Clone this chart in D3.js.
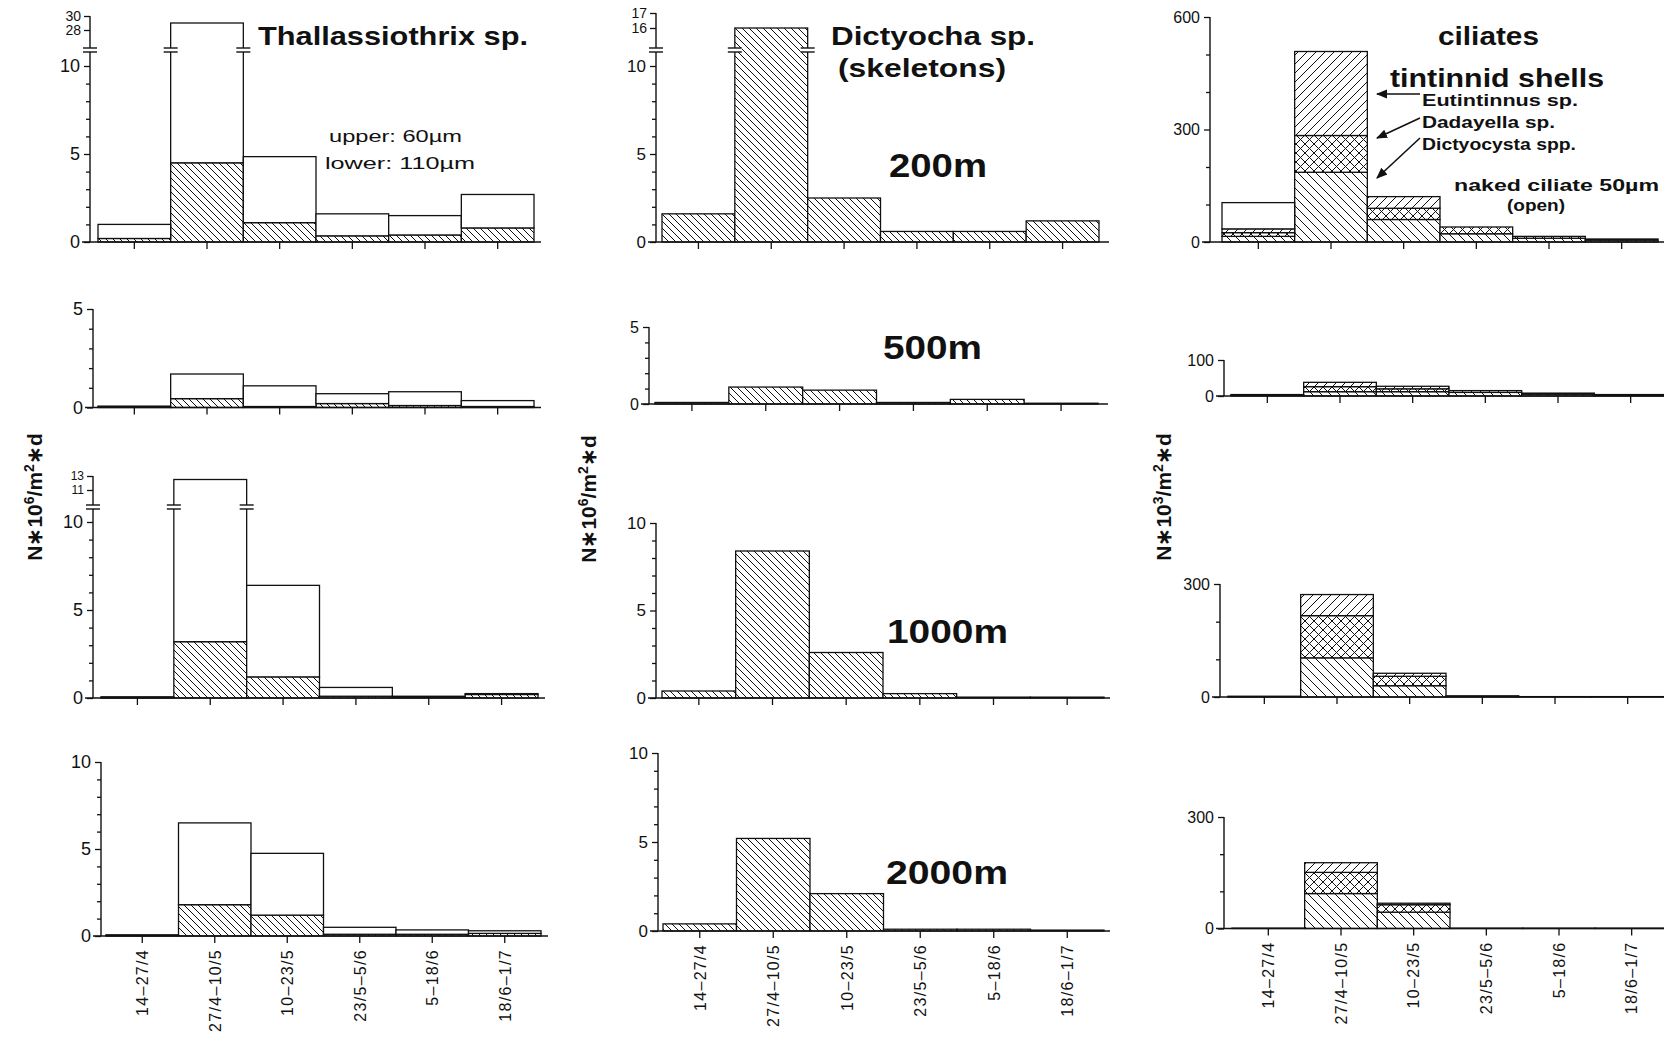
<!DOCTYPE html>
<html>
<head>
<meta charset="utf-8">
<script src="https://cdn.jsdelivr.net/npm/d3@7"></script>
<style>
  body { margin: 0; background: #fff; }
  text { font-family: "Liberation Sans", Arial, sans-serif; fill: #111; }
</style>
</head>
<body>
<div id="viz-container"></div>
<script>
// sampling periods (x categories)
const periods = ["14–27/4", "27/4–10/5", "10–23/5", "23/5–5/6", "5–18/6", "18/6–1/7"];

// Thallassiothrix sp. : lower (110µm trap, hatched) and upper (60µm, open) part of each bar
const thalLower200 = [0.2, 4.5, 1.1, 0.35, 0.4, 0.8];
const thalUpper200 = [0.8, 24.5, 3.75, 1.25, 1.1, 1.9];
const thalLower500 = [0.02, 0.45, 0.05, 0.2, 0.1, 0.05];
const thalUpper500 = [0.05, 1.25, 1.05, 0.5, 0.7, 0.3];
const thalLower1000 = [0.02, 3.2, 1.2, 0.1, 0.05, 0.2];
const thalUpper1000 = [0.05, 9.3, 5.2, 0.5, 0.05, 0.05];
const thalLower2000 = [0.02, 1.8, 1.2, 0.1, 0.1, 0.15];
const thalUpper2000 = [0.05, 4.7, 3.55, 0.4, 0.25, 0.15];

// Dictyocha sp. skeletons
const dict200 = [1.6, 16, 2.5, 0.6, 0.6, 1.2];
const dict500 = [0.1, 1.1, 0.9, 0.1, 0.3, 0.05];
const dict1000 = [0.4, 8.4, 2.6, 0.25, 0.05, 0.05];
const dict2000 = [0.4, 5.2, 2.1, 0.1, 0.1, 0.05];

// ciliates: Dictyocysta spp., Dadayella sp., Eutintinnus sp., naked ciliate
const dictyocysta200 = [15, 186, 60, 22, 10, 5];
const dadayella200 = [10, 98, 30, 18, 5, 3];
const eutintinnus200 = [10, 224, 31, 0, 0, 0];
const naked200 = [70, 0, 0, 0, 0, 0];
const dictyocysta500 = [2, 12, 12, 10, 5, 3];
const dadayella500 = [0, 14, 8, 5, 3, 1];
const eutintinnus500 = [0, 12, 7, 0, 0, 0];
const naked500 = [2, 0, 0, 0, 0, 0];
const dictyocysta1000 = [1, 104, 30, 2, 1, 1];
const dadayella1000 = [0, 112, 25, 0, 0, 0];
const eutintinnus1000 = [0, 56, 8, 0, 0, 0];
const naked1000 = [1, 0, 0, 1, 0, 0];
const dictyocysta2000 = [1, 94, 44, 1, 1, 1];
const dadayella2000 = [0, 57, 20, 0, 0, 0];
const eutintinnus2000 = [0, 26, 4, 0, 0, 0];
const naked2000 = [0, 0, 0, 0, 0, 0];

const W = 1664, H = 1041;
let svg = d3.select("#viz-container")
    .append("svg")
    .attr("width", W)
    .attr("height", H)
    .style("display", "block")
    .style("background-color", "#fff");

// hatch patterns
const defs = svg.append("defs");
function makePattern(id, s, d) {
    let p = defs.append("pattern").attr("id", id)
        .attr("patternUnits", "userSpaceOnUse")
        .attr("width", s).attr("height", s);
    p.append("rect").attr("width", s).attr("height", s).attr("fill", "#fff");
    p.append("path").attr("d", d).attr("stroke", "#111").attr("stroke-width", 1).attr("fill", "none");
}
function backD(s) { return `M0,0L${s},${s}M-1,${s - 1}L1,${s + 1}M${s - 1},-1L${s + 1},1`; }
function fwdD(s) { return `M0,${s}L${s},0M-1,1L1,-1M${s - 1},${s + 1}L${s + 1},${s - 1}`; }
makePattern("back", 7, backD(7));
makePattern("back8", 9, backD(9));
makePattern("fwd8", 9, fwdD(9));
makePattern("cross", 9, backD(9) + fwdD(9));

// table builder for d3.stack
function table(keys, arrays) {
    return periods.map((p, i) => {
        let row = { period: p };
        keys.forEach((k, j) => row[k] = arrays[j][i]);
        return row;
    });
}

const thalKeys = ["lower", "upper"];
const thalFills = ["url(#back)", "#fff"];
const dictKeys = ["skel"];
const dictFills = ["url(#back)"];
const cilKeys = ["Dictyocysta", "Dadayella", "Eutintinnus", "naked"];
const cilFills = ["url(#back8)", "url(#cross)", "url(#fwd8)", "#fff"];

const panels = [
    // column 1 : Thallassiothrix
    { keys: thalKeys, fills: thalFills, data: table(thalKeys, [thalLower200, thalUpper200]),
      axisX: 90, barL: 98, barR: 534, axisEnd: 541, yZero: 242, top: [10, 66],
      ticks: [0, 5, 10], minor: [1, 2, 3, 4, 6, 7, 8, 9], fs: 18,
      brk: { val: 10.9, px: 50, dom: [28, 30], rng: [30, 16], fs: 14 } },
    { keys: thalKeys, fills: thalFills, data: table(thalKeys, [thalLower500, thalUpper500]),
      axisX: 93, barL: 98, barR: 534, axisEnd: 541, yZero: 407.5, top: [5, 309],
      ticks: [0, 5], minor: [1, 2, 3, 4], fs: 18 },
    { keys: thalKeys, fills: thalFills, data: table(thalKeys, [thalLower1000, thalUpper1000]),
      axisX: 93, barL: 101, barR: 538, axisEnd: 545, yZero: 698, top: [10, 522],
      ticks: [0, 5, 10], minor: [1, 2, 3, 4, 6, 7, 8, 9], fs: 18,
      brk: { val: 10.85, px: 507, dom: [11, 13], rng: [490, 476], fs: 12 } },
    { keys: thalKeys, fills: thalFills, data: table(thalKeys, [thalLower2000, thalUpper2000]),
      axisX: 101, barL: 106, barR: 541, axisEnd: 548, yZero: 936, top: [10, 762],
      ticks: [0, 5, 10], minor: [1, 2, 3, 4, 6, 7, 8, 9], fs: 18, labels: true },
    // column 2 : Dictyocha
    { keys: dictKeys, fills: dictFills, data: table(dictKeys, [dict200]),
      axisX: 656, barL: 662, barR: 1099, axisEnd: 1109, yZero: 242, top: [10, 66],
      ticks: [0, 5, 10], minor: [1, 2, 3, 4, 6, 7, 8, 9], fs: 17,
      brk: { val: 10.9, px: 50, dom: [16, 17], rng: [28, 13], fs: 14 } },
    { keys: dictKeys, fills: dictFills, data: table(dictKeys, [dict500]),
      axisX: 649, barL: 655, barR: 1098, axisEnd: 1108, yZero: 404, top: [5, 327],
      ticks: [0, 5], minor: [1, 2, 3, 4], fs: 16 },
    { keys: dictKeys, fills: dictFills, data: table(dictKeys, [dict1000]),
      axisX: 656, barL: 662, barR: 1104, axisEnd: 1110, yZero: 698, top: [10, 523],
      ticks: [0, 5, 10], minor: [1, 2, 3, 4, 6, 7, 8, 9], fs: 17 },
    { keys: dictKeys, fills: dictFills, data: table(dictKeys, [dict2000]),
      axisX: 658, barL: 663, barR: 1104, axisEnd: 1110, yZero: 931, top: [10, 753],
      ticks: [0, 5, 10], minor: [1, 2, 3, 4, 6, 7, 8, 9], fs: 17, labels: true },
    // column 3 : ciliates
    { keys: cilKeys, fills: cilFills, data: table(cilKeys, [dictyocysta200, dadayella200, eutintinnus200, naked200]),
      axisX: 1210, barL: 1222, barR: 1658, axisEnd: 1664, yZero: 242, top: [600, 17],
      ticks: [0, 300, 600], minor: [100, 200, 400, 500], fs: 16 },
    { keys: cilKeys, fills: cilFills, data: table(cilKeys, [dictyocysta500, dadayella500, eutintinnus500, naked500]),
      axisX: 1224, barL: 1231, barR: 1667, axisEnd: 1664, yZero: 396, top: [100, 360],
      ticks: [0, 100], minor: [], fs: 16 },
    { keys: cilKeys, fills: cilFills, data: table(cilKeys, [dictyocysta1000, dadayella1000, eutintinnus1000, naked1000]),
      axisX: 1220, barL: 1228, barR: 1664, axisEnd: 1664, yZero: 697, top: [300, 584],
      ticks: [0, 300], minor: [100, 200], fs: 16 },
    { keys: cilKeys, fills: cilFills, data: table(cilKeys, [dictyocysta2000, dadayella2000, eutintinnus2000, naked2000]),
      axisX: 1224, barL: 1232, barR: 1668, axisEnd: 1664, yZero: 928.5, top: [300, 817],
      ticks: [0, 300], minor: [100, 200], fs: 16, labels: true }
];

function breakMark(g, x, y) {
    g.append("rect").attr("x", x - 7).attr("y", y - 2).attr("width", 14).attr("height", 4).attr("fill", "#fff");
    g.append("line").attr("x1", x - 7).attr("x2", x + 7).attr("y1", y - 2).attr("y2", y - 2).attr("stroke", "#111").attr("stroke-width", 1.4);
    g.append("line").attr("x1", x - 7).attr("x2", x + 7).attr("y1", y + 2).attr("y2", y + 2).attr("stroke", "#111").attr("stroke-width", 1.4);
}

function drawPanel(p) {
    let g = svg.append("g");
    let x = d3.scaleBand().domain(periods).range([p.barL, p.barR]).padding(0);
    let lower = d3.scaleLinear().domain([0, p.top[0]]).range([p.yZero, p.top[1]]);
    let upper = p.brk ? d3.scaleLinear().domain(p.brk.dom).range(p.brk.rng) : null;
    let y = v => (p.brk && v > p.brk.val) ? upper(v) : lower(v);

    // bars
    let series = d3.stack().keys(p.keys)(p.data);
    series.forEach((s, k) => {
        g.selectAll(null).data(s.filter(d => d[1] - d[0] > 0)).enter().append("rect")
            .attr("x", d => x(d.data.period))
            .attr("width", x.bandwidth())
            .attr("y", d => y(d[1]))
            .attr("height", d => y(d[0]) - y(d[1]))
            .attr("fill", p.fills[k])
            .attr("stroke", "#111")
            .attr("stroke-width", 1.3);
    });

    // x axis
    let xa = d3.axisBottom(x).tickSize(7).tickSizeOuter(0).tickFormat(p.labels ? d => d : "");
    let xg = g.append("g").attr("transform", `translate(0,${p.yZero})`).call(xa);
    xg.select(".domain").remove();
    xg.selectAll(".tick text")
        .attr("transform", "rotate(-90)")
        .attr("text-anchor", "end")
        .attr("x", -13).attr("y", 0).attr("dy", "0.36em")
        .style("font-size", "16px").style("letter-spacing", "1.3px")
        .attr("font-family", null);
    g.append("line").attr("x1", p.axisX - 8).attr("x2", p.axisEnd)
        .attr("y1", p.yZero).attr("y2", p.yZero)
        .attr("stroke", "#111").attr("stroke-width", 1.6);

    // y axis (lower part)
    let ya = d3.axisLeft(lower).tickValues(p.ticks).tickSize(6).tickSizeOuter(0).tickFormat(d3.format("d"));
    let yg = g.append("g").attr("transform", `translate(${p.axisX},0)`).call(ya);
    yg.select(".domain").remove();
    yg.selectAll(".tick text").style("font-size", p.fs + "px").attr("font-family", null).attr("x", -10);
    let ym = d3.axisLeft(lower).tickValues(p.minor).tickSize(4).tickFormat("");
    let ymg = g.append("g").attr("transform", `translate(${p.axisX},0)`).call(ym);
    ymg.select(".domain").remove();
    let axisTop = p.brk ? p.brk.px : p.top[1];
    g.append("line").attr("x1", p.axisX).attr("x2", p.axisX)
        .attr("y1", p.yZero).attr("y2", axisTop)
        .attr("stroke", "#111").attr("stroke-width", 1.4);

    if (p.brk) {
        // upper part of the broken axis
        let ua = d3.axisLeft(upper).tickValues(p.brk.dom).tickSize(6).tickSizeOuter(0).tickFormat(d3.format("d"));
        let ug = g.append("g").attr("transform", `translate(${p.axisX},0)`).call(ua);
        ug.select(".domain").remove();
        ug.selectAll(".tick text").style("font-size", p.brk.fs + "px").attr("font-family", null).attr("x", -9);
        g.append("line").attr("x1", p.axisX).attr("x2", p.axisX)
            .attr("y1", p.brk.px).attr("y2", d3.min(p.brk.rng))
            .attr("stroke", "#111").attr("stroke-width", 1.4);
        breakMark(g, p.axisX, p.brk.px);
        // break marks on the bars that reach the upper scale
        p.data.forEach(d => {
            let tot = d3.sum(p.keys, k => d[k]);
            if (tot > p.brk.val) {
                breakMark(g, x(d.period), p.brk.px);
                breakMark(g, x(d.period) + x.bandwidth(), p.brk.px);
            }
        });
    }
    g.selectAll(".tick line").attr("stroke", "#111").attr("stroke-width", 1.3);
}

panels.forEach(drawPanel);

// labels
function label(txt, x, y, size, len, weight) {
    svg.append("text").attr("x", x).attr("y", y)
        .attr("textLength", len).attr("lengthAdjust", "spacingAndGlyphs")
        .style("font-size", size + "px").style("font-weight", weight || "bold")
        .text(txt);
}
label("Thallassiothrix  sp.", 258, 45, 26, 270);
label("upper: 60µm", 329, 142, 17, 133, "normal");
label("lower: 110µm", 325, 169, 17, 150, "normal");
label("Dictyocha  sp.", 831, 45, 26, 204);
label("(skeletons)", 838, 77, 26, 168);
label("200m", 889, 177, 33, 98);
label("500m", 883, 359, 33, 99);
label("1000m", 887, 643, 33, 121);
label("2000m", 886, 884, 33, 122);
label("ciliates", 1438, 45, 26, 101);
label("tintinnid  shells", 1390, 87, 26, 214);
label("Eutintinnus sp.", 1422, 106, 16, 156);
label("Dadayella sp.", 1422, 128, 16, 133);
label("Dictyocysta spp.", 1422, 150, 16, 154);
label("naked  ciliate  50µm", 1454, 191, 16, 205);
label("(open)", 1507, 211, 16, 58);

// arrows to the ciliate legend
defs.append("marker").attr("id", "arr").attr("viewBox", "0 0 10 10")
    .attr("refX", 9).attr("refY", 5).attr("markerWidth", 7).attr("markerHeight", 7)
    .attr("orient", "auto-start-reverse")
    .append("path").attr("d", "M0,1L10,5L0,9z").attr("fill", "#111");
const arrows = [[1420, 94, 1377, 94], [1420, 118, 1377, 138], [1420, 138, 1377, 178]];
arrows.forEach(a => svg.append("line")
    .attr("x1", a[0]).attr("y1", a[1]).attr("x2", a[2]).attr("y2", a[3])
    .attr("stroke", "#111").attr("stroke-width", 1.6).attr("marker-end", "url(#arr)"));

// y axis titles
function yTitle(x, y, exp) {
    let t = svg.append("text")
        .attr("transform", `translate(${x},${y}) rotate(-90)`)
        .attr("text-anchor", "middle")
        .style("font-size", "21px").style("font-weight", "bold");
    t.append("tspan").text("N∗10");
    t.append("tspan").attr("dy", -8).style("font-size", "14px").text(exp);
    t.append("tspan").attr("dy", 8).text("/m");
    t.append("tspan").attr("dy", -8).style("font-size", "14px").text("2");
    t.append("tspan").attr("dy", 8).text("∗d");
}
yTitle(42, 497, "6");
yTitle(596, 499, "6");
yTitle(1171, 497, "3");
</script>
</body>
</html>
